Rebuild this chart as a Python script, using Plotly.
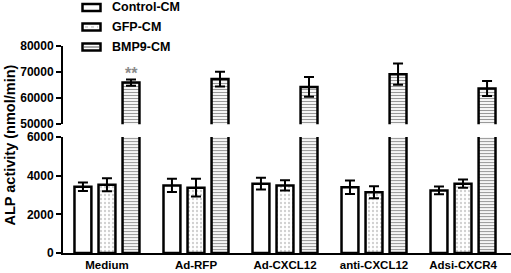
import plotly.graph_objects as go

categories = ["Medium", "Ad-RFP", "Ad-CXCL12", "anti-CXCL12", "Adsi-CXCR4"]
series_names = ["Control-CM", "GFP-CM", "BMP9-CM"]
control_vals = [3430, 3500, 3590, 3400, 3240]
control_err = [220, 340, 300, 350, 200]
gfp_vals = [3530, 3380, 3500, 3140, 3590]
gfp_err = [340, 460, 260, 310, 210]
bmp9_vals = [66000, 67300, 64300, 69200, 63700]
bmp9_err = [1200, 2800, 3800, 4100, 2900]

lower_ticks = [0, 2000, 4000, 6000]
upper_ticks = [50000, 60000, 70000, 80000]

W = 0.19
offs = [-0.365, -0.095, 0.175]
FONT = "Arial, Liberation Sans, sans-serif"

def errb(vals):
    return dict(type="data", array=vals, color="black", thickness=2, width=5)

gfp_pattern = dict(shape=".", fgcolor="#9a9a9a", bgcolor="white", size=4, solidity=0.25)
bmp_pattern = dict(shape="-", fgcolor="#333333", bgcolor="white", size=3, solidity=0.4)

fig = go.Figure()
fig.add_trace(go.Bar(
    x=categories, y=control_vals, name=series_names[0], width=W, offset=offs[0],
    marker=dict(color="white", line=dict(color="black", width=2.5)),
    error_y=errb(control_err), xaxis="x", yaxis="y", showlegend=False))
fig.add_trace(go.Bar(
    x=categories, y=gfp_vals, name=series_names[1], width=W, offset=offs[1],
    marker=dict(color="white", line=dict(color="black", width=2.5), pattern=gfp_pattern),
    error_y=errb(gfp_err), xaxis="x", yaxis="y", showlegend=False))
fig.add_trace(go.Bar(
    x=categories, y=bmp9_vals, name=series_names[2], width=W, offset=offs[2],
    marker=dict(color="white", line=dict(color="black", width=2.5), pattern=bmp_pattern),
    error_y=errb(bmp9_err), xaxis="x", yaxis="y", showlegend=False))
fig.add_trace(go.Bar(
    x=categories, y=bmp9_vals, name=series_names[2], width=W, offset=offs[2], showlegend=False,
    marker=dict(color="white", line=dict(color="black", width=2.5), pattern=bmp_pattern),
    error_y=errb(bmp9_err), xaxis="x", yaxis="y2"))

fig.add_annotation(x=offs[2] + W / 2, y=bmp9_vals[0] + bmp9_err[0], xref="x", yref="y2",
                   text="**", showarrow=False, yanchor="bottom", yshift=-5,
                   font=dict(size=16, color="#8a8a8a", family=FONT))
fig.add_annotation(x=-0.118, y=0.52, xref="paper", yref="paper", text="ALP activity (nmol/min)",
                   textangle=-90, showarrow=False, xanchor="center", yanchor="middle",
                   font=dict(size=14.5, color="black", family=FONT, weight="bold"))

# custom legend (paper coords: plot area 63..511 px wide, 46..252.7 px tall)
def px_x(x):
    return (x - 63) / 448.0

def px_y(y):
    return (252.7 - y) / 206.7

legend_rows = [7.5, 27, 47]
for i, (name, yc) in enumerate(zip(series_names, legend_rows)):
    fig.add_shape(type="rect", xref="paper", yref="paper",
                  x0=px_x(82.5), x1=px_x(100.5), y0=px_y(yc + 3.5), y1=px_y(yc - 3.5),
                  line=dict(color="black", width=2.5), fillcolor="white")
    if i == 1:
        fig.add_shape(type="line", xref="paper", yref="paper",
                      x0=px_x(85), x1=px_x(98), y0=px_y(yc), y1=px_y(yc),
                      line=dict(color="#b0b0b0", width=1, dash="dot"))
    if i == 2:
        fig.add_shape(type="line", xref="paper", yref="paper",
                      x0=px_x(84), x1=px_x(99), y0=px_y(yc), y1=px_y(yc),
                      line=dict(color="#555555", width=1))
    fig.add_annotation(x=px_x(110), y=px_y(yc), xref="paper", yref="paper", text=name,
                       showarrow=False, xanchor="left", yanchor="middle",
                       font=dict(size=12.5, family=FONT, color="black", weight="bold"))

axis_common = dict(showline=True, linewidth=2, linecolor="black", ticks="outside",
                   ticklen=5, tickwidth=2, tickcolor="black", showgrid=False, zeroline=False,
                   automargin=False,
                   tickfont=dict(size=12, family=FONT, color="black", weight="bold"))

fig.update_layout(
    width=511, height=273, margin=dict(l=63, r=0, t=46, b=20),
    paper_bgcolor="white", plot_bgcolor="white", barmode="overlay",
    font=dict(family=FONT, color="black", weight="bold"),
    xaxis=dict(type="category", range=[-0.494, 4.539], showline=True, linewidth=2,
               linecolor="black", ticks="", showgrid=False, zeroline=False, automargin=False,
               tickfont=dict(size=11.5, family=FONT, color="black", weight="bold")),
    yaxis=dict(domain=[0, 0.56], range=[0, 6000], tickvals=lower_ticks,
               ticktext=[str(v) for v in lower_ticks], **axis_common),
    yaxis2=dict(domain=[0.622, 1], range=[50000, 80000], tickvals=upper_ticks,
                ticktext=[str(v) for v in upper_ticks], anchor="x", **axis_common),
    showlegend=False,
)

fig.write_html("out.html", config={"displayModeBar": False},
               post_script="document.body.style.margin='0';")
